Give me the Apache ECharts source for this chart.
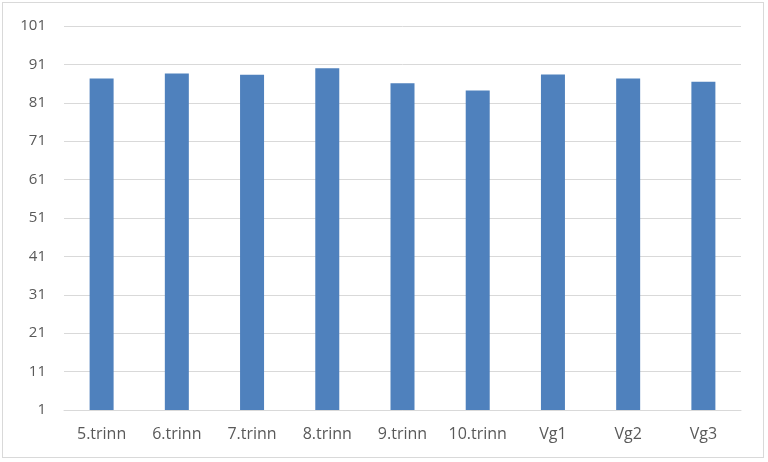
<!DOCTYPE html>
<html><head><meta charset="utf-8">
<script src="https://cdn.jsdelivr.net/npm/echarts@6/dist/echarts.min.js"></script>
<style>html,body{margin:0;padding:0;background:#fff}#c{width:768px;height:462px}
#frame{position:absolute;left:2px;top:2px;width:762px;height:456px;border:1px solid #d9d9d9;box-sizing:border-box;pointer-events:none}</style>
</head><body><div id="c"></div><div id="frame"></div>
<script>
const categories = ['5.trinn','6.trinn','7.trinn','8.trinn','9.trinn','10.trinn','Vg1','Vg2','Vg3'];
const values = [87.3, 88.6, 88.3, 90.0, 86.1, 84.2, 88.4, 87.3, 86.5];
const chart = echarts.init(document.getElementById('c'));
chart.setOption({
  animation:false,
  grid:{left:64, right:27, top:26, bottom:52},
  xAxis:{type:'category', data:categories,
    axisLine:{lineStyle:{color:'#d9d9d9'}}, axisTick:{show:false},
    axisLabel:{interval:0, color:'#595959', fontSize:16, fontFamily:'Open Sans, Calibri, sans-serif', margin:16}},
  yAxis:{type:'value', min:1, max:101, interval:10,
    axisLine:{show:false}, axisTick:{show:false},
    splitLine:{lineStyle:{color:'#d9d9d9'}},
    axisLabel:{color:'#595959', fontSize:15, fontFamily:'Open Sans, Calibri, sans-serif', margin:18}},
  series:[{type:'bar', data:values, barWidth:24, itemStyle:{color:'#4F81BD'}}]
});
</script></body></html>
